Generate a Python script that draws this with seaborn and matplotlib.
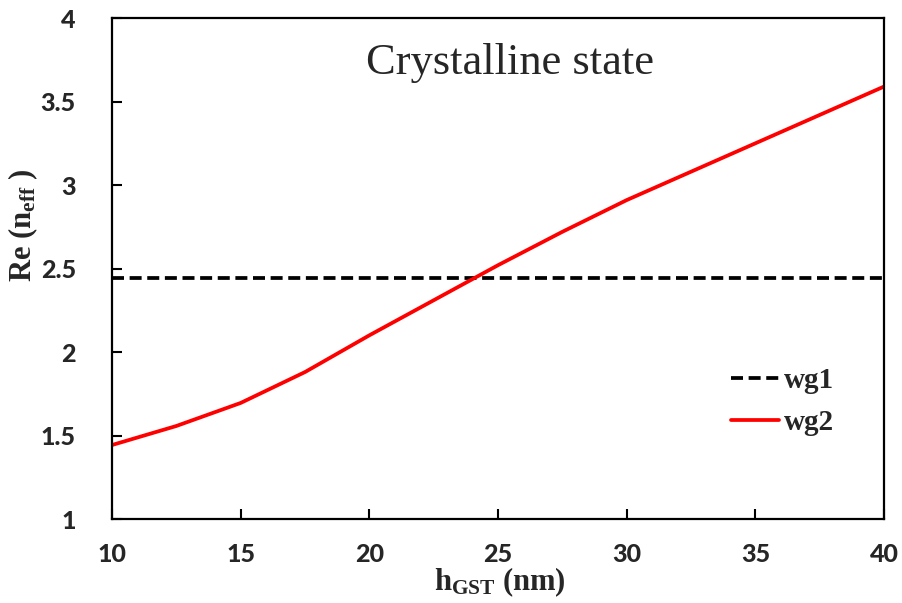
import matplotlib
matplotlib.use("Agg")
import matplotlib.pyplot as plt
import seaborn as sns
import pandas as pd

# Effective index (real part) versus GST thickness
h_gst = [10, 12.5, 15, 17.5, 20, 22.5, 25, 27.5, 30, 32.5, 35, 37.5, 40]
wg2_neff = [1.443, 1.557, 1.695, 1.88, 2.10, 2.31, 2.52, 2.72, 2.91, 3.08, 3.25, 3.42, 3.59]
wg1_h = [10, 40]
wg1_neff = [2.445, 2.445]

x_ticks = [10, 15, 20, 25, 30, 35, 40]
y_ticks = [1, 1.5, 2, 2.5, 3, 3.5, 4]
y_tick_labels = ["1", "1.5", "2", "2.5", "3", "3.5", "4"]

sns.set_style("ticks")
plt.rcParams["mathtext.fontset"] = "custom"
plt.rcParams["mathtext.rm"] = "Liberation Serif"
plt.rcParams["mathtext.bf"] = "Liberation Serif:bold"

fig = plt.figure(figsize=(9.03, 6.03), dpi=100)
ax = fig.add_axes([0.124, 0.1393, 0.855, 0.8307])

df1 = pd.DataFrame({"h": wg1_h, "neff": wg1_neff})
df2 = pd.DataFrame({"h": h_gst, "neff": wg2_neff})

sns.lineplot(data=df1, x="h", y="neff", ax=ax, color="black", linewidth=2.7,
             linestyle=(0, (3.2, 1.5)), label="wg1")
sns.lineplot(data=df2, x="h", y="neff", ax=ax, color="#ff0000", linewidth=2.7,
             label="wg2")
for ln in ax.get_lines():
    ln.set_solid_capstyle("round")
    ln.set_solid_joinstyle("round")

ax.set_xlim(10, 40)
ax.set_ylim(1, 4)
ax.set_xticks(x_ticks)
ax.set_yticks(y_ticks)
ax.set_yticklabels(y_tick_labels)

for side in ["left", "right", "top", "bottom"]:
    ax.spines[side].set_visible(True)
    ax.spines[side].set_linewidth(1.6)
    ax.spines[side].set_color("black")

ax.tick_params(axis="both", direction="in", length=7, width=1.5, color="black")
ax.tick_params(axis="y", pad=26)
ax.tick_params(axis="x", pad=17)
for lab in ax.get_xticklabels() + ax.get_yticklabels():
    lab.set_fontfamily("Lato")
    lab.set_fontweight("black")
    lab.set_fontsize(18)

ax.set_xlabel(r"h$\mathbf{_{GST}}$ (nm)", fontfamily="Liberation Serif",
              fontweight="bold", fontsize=22)
ax.set_ylabel(r"Re (n$\mathbf{_{eff}}$ )", fontfamily="Liberation Serif",
              fontweight="bold", fontsize=22)
ax.xaxis.set_label_coords(0.503, -0.092)
ax.yaxis.set_label_coords(-0.093, 0.587)

ax.text(0.5155, 0.911, "Crystalline state", transform=ax.transAxes,
        ha="center", va="center", fontfamily="Liberation Serif", fontsize=32)

ax.legend(loc="center left", bbox_to_anchor=(0.802, 0.2345), frameon=False,
          borderpad=0, borderaxespad=0, handlelength=1.65, handletextpad=0.15,
          labelspacing=0.5, prop={"family": "Liberation Serif",
                                  "weight": "bold", "size": 21})

fig.savefig("out.png", dpi=100)
